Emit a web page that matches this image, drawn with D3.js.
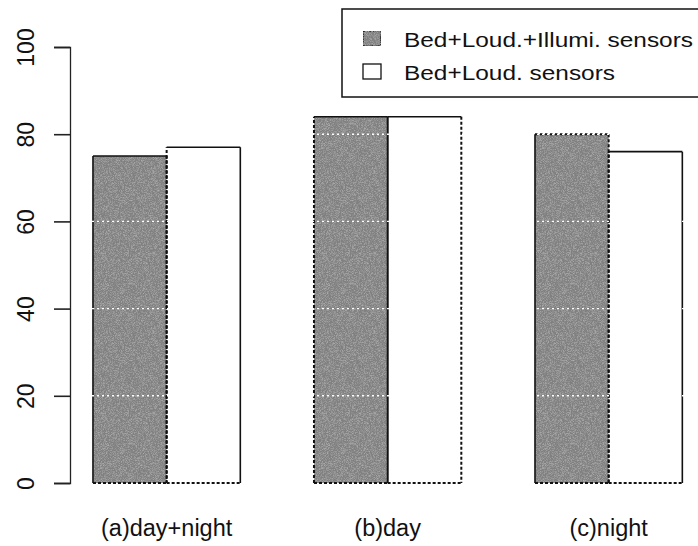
<!DOCTYPE html>
<html>
<head>
<meta charset="utf-8">
<script src="https://cdn.jsdelivr.net/npm/d3@7"></script>
<style>
  body { margin: 0; background: #fff; }
  text { font-family: "Liberation Sans", Arial, sans-serif; fill: #111; }
</style>
</head>
<body>
<svg id="svgBars"></svg>
<script>
/// DATA ////////////////////////////////////////////////////////////////////////////////

var categories = ["(a)day+night", "(b)day", "(c)night"];
var seriesNames = ["Bed+Loud.+Illumi. sensors", "Bed+Loud. sensors"];
var seriesA = [75, 84, 80];   // Bed+Loud.+Illumi.
var seriesB = [77, 84, 76];   // Bed+Loud.
var yTicks = [0, 20, 40, 60, 80, 100];
var gridValues = [20, 40, 60, 80];

/////////////////////////////////////////////////////////////////////////////////////////

var WIDTH = 698, HEIGHT = 546;
var PLOT_LEFT = 70, PLOT_RIGHT = 698;
var fills = ["#808080", "#ffffff"];
var legendWidths = [289, 211]; // legend text is drawn a bit stretched in the original

// edge styles for each bar (left, top, right, bottom) - the scan has mixed borders
var edgeStyle = [
    [["s", "s", "d", "d"], ["d", "s", "s", "d"]],
    [["d", "s", "s", "d"], ["s", "s", "d", "d"]],
    [["s", "d", "d", "d"], ["d", "s", "s", "d"]]
];

var svg = d3.select('#svgBars')
    .attr('width', WIDTH)
    .attr('height', HEIGHT);

// noise filter for the gray bars
var defs = svg.append('defs');
var filt = defs.append('filter').attr('id', 'grain')
    .attr('x', 0).attr('y', 0).attr('width', 1).attr('height', 1);
filt.append('feTurbulence').attr('type', 'fractalNoise')
    .attr('baseFrequency', 1.6).attr('numOctaves', 1).attr('seed', 3).attr('result', 'noise');
filt.append('feColorMatrix').attr('in', 'noise').attr('type', 'matrix')
    .attr('values', '0 0 0 0 0.45  0 0 0 0 0.45  0 0 0 0 0.45  0 0 0 -2.2 1.3')
    .attr('result', 'dark');
filt.append('feComposite').attr('in', 'dark').attr('in2', 'SourceGraphic')
    .attr('operator', 'in').attr('result', 'grain');
var merge = filt.append('feMerge');
merge.append('feMergeNode').attr('in', 'SourceGraphic');
merge.append('feMergeNode').attr('in', 'grain');

// scales
var y = d3.scaleLinear().domain([0, 100]).range([483, 47]);
var x0 = d3.scaleBand().domain(categories).range([19.3, 756]).paddingInner(1 / 3).paddingOuter(1 / 3);
var x1 = d3.scaleBand().domain([0, 1]).range([0, x0.bandwidth()]);

// rebuild rows for drawing
var rows = categories.map(function (c, i) {
    return { cat: c, vals: [seriesA[i], seriesB[i]], idx: i };
});

var groups = svg.selectAll('g.group')
    .data(rows)
    .enter()
    .append('g')
        .attr('class', 'group')
        .attr('transform', function (d) { return 'translate(' + x0(d.cat) + ',0)'; });

groups.selectAll('rect')
    .data(function (d) { return d.vals.map(function (v, k) { return { v: v, k: k, i: d.idx }; }); })
    .enter()
    .append('rect')
        .attr('x', function (d) { return x1(d.k); })
        .attr('y', function (d) { return y(d.v); })
        .attr('width', x1.bandwidth())
        .attr('height', function (d) { return y(0) - y(d.v); })
        .attr('fill', function (d) { return fills[d.k]; })
        .attr('filter', function (d) { return d.k === 0 ? 'url(#grain)' : null; });

// white dotted grid lines over the bars
svg.selectAll('line.grid')
    .data(gridValues)
    .enter()
    .append('line')
        .attr('class', 'grid')
        .attr('x1', PLOT_LEFT + 22).attr('x2', PLOT_RIGHT)
        .attr('y1', function (d) { return y(d); })
        .attr('y2', function (d) { return y(d); })
        .attr('stroke', '#fff')
        .attr('stroke-width', 1.4)
        .attr('stroke-dasharray', '2,3');

// bar borders, edge by edge
groups.each(function (d) {
    var g = d3.select(this);
    d.vals.forEach(function (v, k) {
        var xl = x1(k), xr = x1(k) + x1.bandwidth(), yt = y(v), yb = y(0);
        var edges = [[xl, yb, xl, yt], [xl, yt, xr, yt], [xr, yt, xr, yb], [xl, yb, xr, yb]];
        edges.forEach(function (e, j) {
            var st = edgeStyle[d.idx][k][j];
            g.append('line')
                .attr('x1', e[0]).attr('y1', e[1]).attr('x2', e[2]).attr('y2', e[3])
                .attr('stroke', '#111')
                .attr('stroke-width', st === 'd' ? 2 : 1.6)
                .attr('stroke-dasharray', st === 'd' ? '3,2' : null);
        });
    });
});

// y axis
var yAxis = svg.append('g')
    .attr('transform', 'translate(' + PLOT_LEFT + ',0)')
    .call(d3.axisLeft(y).tickValues(yTicks).tickSize(16).tickFormat(d3.format('d')));
yAxis.select('.domain').attr('stroke', '#222').attr('stroke-width', 1.3);
yAxis.selectAll('.tick line').attr('stroke', '#222').attr('stroke-width', 1.6);
yAxis.selectAll('.tick text')
    .attr('transform', 'rotate(-90)')
    .attr('x', 0).attr('y', 0)
    .attr('dx', 0).attr('dy', '-36px')
    .style('text-anchor', 'middle')
    .style('font-size', '23px')
    .attr('fill', '#111');

// category labels
svg.selectAll('text.cat')
    .data(categories)
    .enter()
    .append('text')
        .attr('class', 'cat')
        .attr('x', function (d) { return x0(d) + x0.bandwidth() / 2; })
        .attr('y', 536)
        .style('text-anchor', 'middle')
        .style('font-size', '23.5px')
        .text(function (d) { return d; });

// legend
var legend = svg.append('g').attr('transform', 'translate(342,9)');
legend.append('rect')
    .attr('x', 0).attr('y', 0).attr('width', 370).attr('height', 88)
    .attr('fill', '#fff').attr('stroke', '#111').attr('stroke-width', 1.5);
var items = legend.selectAll('g.item')
    .data(seriesNames)
    .enter()
    .append('g')
        .attr('class', 'item')
        .attr('transform', function (d, i) { return 'translate(0,' + (22 + i * 33) + ')'; });
items.append('rect')
    .attr('x', 21).attr('y', 0).attr('width', 18).attr('height', 15)
    .attr('fill', function (d, i) { return fills[i]; })
    .attr('filter', function (d, i) { return i === 0 ? 'url(#grain)' : null; })
    .attr('stroke', '#111').attr('stroke-width', 1.3);
items.append('text')
    .attr('x', 62).attr('y', 15.5)
    .style('font-size', '20.5px')
    .attr('textLength', function (d, i) { return legendWidths[i]; })
    .attr('lengthAdjust', 'spacingAndGlyphs')
    .text(function (d) { return d; });
</script>
</body>
</html>
